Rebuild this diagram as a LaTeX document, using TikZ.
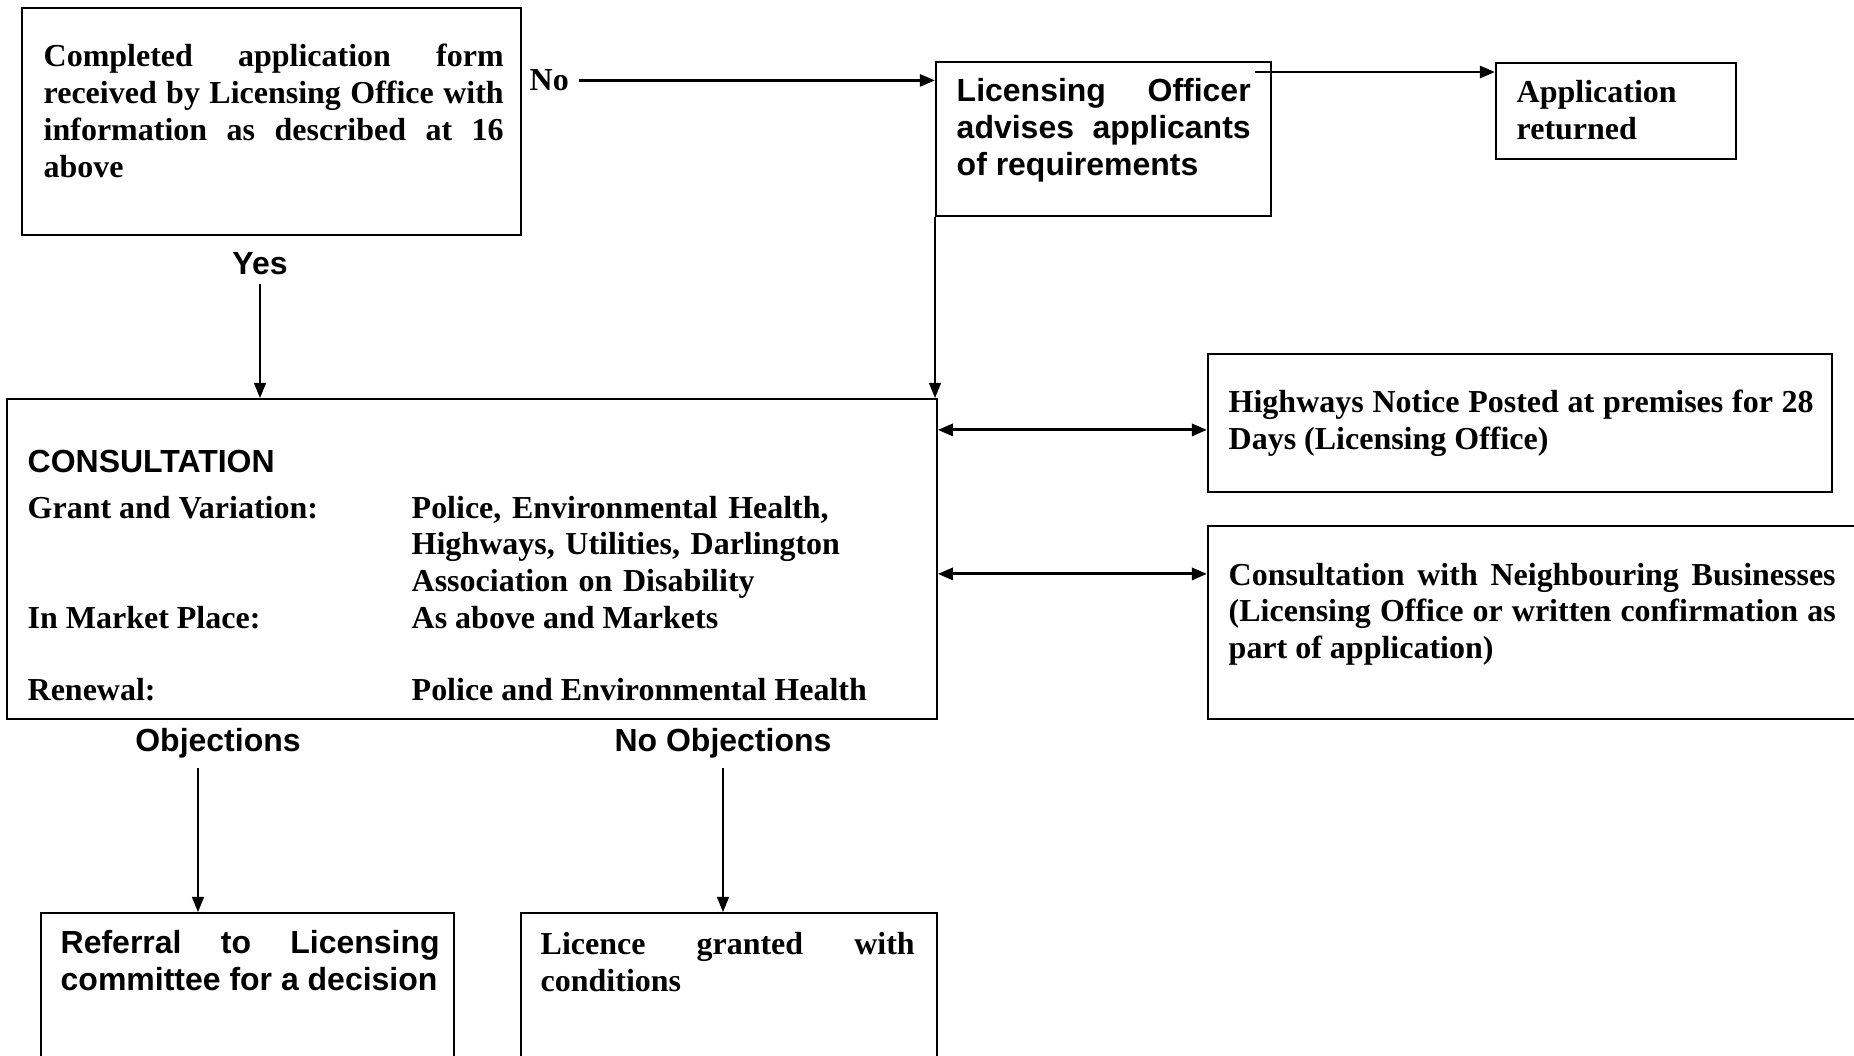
\documentclass[tikz,border=0pt]{standalone}
\usepackage{fontspec}
\setmainfont{Liberation Serif}
\setsansfont{Liberation Sans}
\usetikzlibrary{arrows.meta}
\tikzset{
    box/.style={draw, line width=0.5pt, anchor=north west, inner sep=0pt},
    txt/.style={inner sep=0pt, anchor=base west, font=\fontsize{9.1}{10.5}\selectfont\bfseries},
    txtsf/.style={txt, font=\fontsize{9.1}{10.6}\selectfont\sffamily\bfseries},
    lbl/.style={inner sep=0.09cm, anchor=base, font=\fontsize{9.1}{10.5}\selectfont\sffamily\bfseries},
    arr/.style={-{Triangle[width=3.4pt,length=4.3pt]}, line width=0.45pt},
    arrthick/.style={arr, line width=0.8pt},
    dblarr/.style={{Triangle[width=3.4pt,length=4.3pt]}-{Triangle[width=3.4pt,length=4.3pt]}, line width=0.9pt}
}

\begin{document}
\begin{tikzpicture}

    % Page
    \useasboundingbox (0,0) rectangle (18.54,-10.55);
    \clip (0,0) rectangle (18.54,-10.55);

    % Application form
    \node[box, minimum width=4.99cm, minimum height=2.27cm] (form) at (0.21,-0.07) {};
    \node[txt, text width=4.6cm, align=justify] (formtxt) at (0.43,-0.665)
        {Completed application form\linebreak received by Licensing Office with\linebreak information as described at 16\linebreak above};

    % Licensing Officer
    \node[box, minimum width=3.35cm, minimum height=1.54cm] (officer) at (9.35,-0.61) {};
    \node[txtsf, text width=2.94cm, align=justify] (officertxt) at (9.56,-1.01)
        {Licensing Officer\linebreak advises applicants\linebreak of requirements};

    % Application returned
    \node[box, minimum width=2.40cm, minimum height=0.96cm] (returned) at (14.95,-0.62) {};
    \node[txt, text width=2cm, align=left, font=\fontsize{9.1}{10.8}\selectfont\bfseries] (returnedtxt) at (15.16,-1.02) {Application\\returned};

    % No
    \node[lbl, anchor=base west, font=\fontsize{9.1}{10.5}\selectfont\bfseries] (no) at (5.20,-0.907) {No};
    \draw[arrthick] (no.east) -- (no.east -| officer.west);
    \coordinate (retfrom) at (12.55,-0.72);
    \draw[arrthick] (retfrom) -- (retfrom -| returned.west);

    % Consultation
    \node[box, minimum width=9.30cm, minimum height=3.20cm] (consult) at (0.06,-3.98) {};
    \node[txtsf] (consulthead) at (0.27,-4.727) {CONSULTATION};
    \node[txt] (grant) at (0.27,-5.18) {Grant and Variation:};
    \node[txt, text width=4.8cm, align=left] (grantwho) at (4.11,-5.18)
        {Police, Environmental Health,\\Highways, Utilities, Darlington\\Association on Disability};
    \node[txt] (market) at (0.27,-6.28) {In Market Place:};
    \node[txt] (marketwho) at (4.11,-6.28) {As above and Markets};
    \node[txt] (renew) at (0.27,-7.00) {Renewal:};
    \node[txt] (renewwho) at (4.11,-7.00) {Police and Environmental Health};

    % Yes
    \node[lbl] (yes) at (2.60,-2.74) {Yes};
    \draw[arr] (yes.south) -- (yes.south |- consult.north);
    \draw[arr] (officer.south west) -- (officer.south west |- consult.north);

    % Highways notice
    \node[box, minimum width=6.24cm, minimum height=1.38cm] (highways) at (12.07,-3.53) {};
    \node[txt, text width=5.85cm, align=justify] (highwaystxt) at (12.28,-4.125)
        {Highways Notice Posted at premises for 28\linebreak Days (Licensing Office)};
    \draw[dblarr] ([yshift=-0.07cm]highways.west) -- ([yshift=-0.07cm]highways.west -| consult.east);

    % Neighbouring businesses
    \node[box, minimum width=6.60cm, minimum height=1.93cm] (neigh) at (12.07,-5.25) {};
    \node[txt, text width=6.07cm, align=justify] (neightxt) at (12.28,-5.85)
        {Consultation with Neighbouring Businesses\linebreak (Licensing Office or written confirmation as\linebreak part of application)};
    \draw[dblarr] ([yshift=0.485cm]neigh.west) -- ([yshift=0.485cm]neigh.west -| consult.east);

    % Referral
    \node[box, minimum width=4.13cm, minimum height=1.60cm] (referral) at (0.40,-9.12) {};
    \node[txtsf, text width=3.79cm, align=justify] (referraltxt) at (0.60,-9.535)
        {Referral to Licensing\linebreak committee for a decision};
    \node[lbl] (objl) at (2.18,-7.517) {Objections};
    \draw[arr] ([xshift=-0.2cm]objl.south) -- ([xshift=-0.2cm]objl.south |- referral.north);

    % Licence granted
    \node[box, minimum width=4.16cm, minimum height=1.60cm] (licence) at (5.20,-9.12) {};
    \node[txt, text width=3.74cm, align=justify, font=\fontsize{9.1}{10.7}\selectfont\bfseries] (licencetxt) at (5.40,-9.54)
        {Licence granted with\linebreak conditions};
    \node[lbl] (noobjl) at (7.23,-7.517) {No Objections};
    \draw[arr] (noobjl.south) -- (noobjl.south |- licence.north);

\end{tikzpicture}
\end{document}
